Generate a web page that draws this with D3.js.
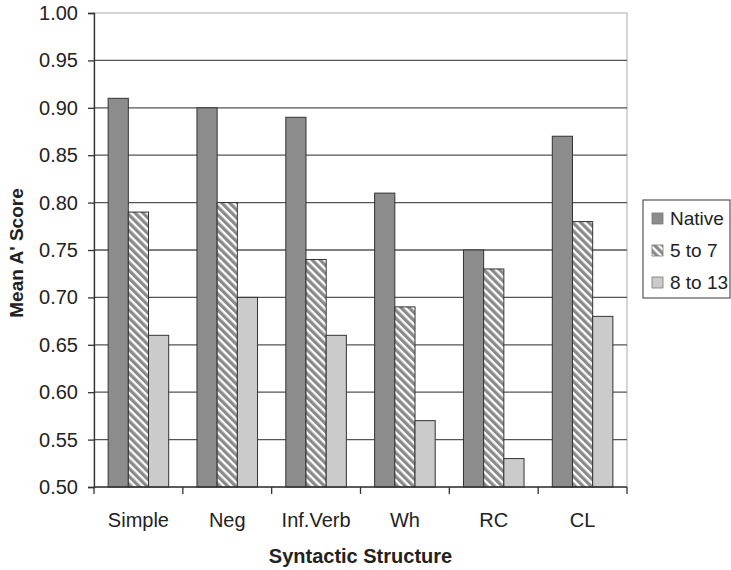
<!DOCTYPE html>
<html>
<head>
<meta charset="utf-8">
<script src="https://cdn.jsdelivr.net/npm/d3@7"></script>
<style>
    body { margin: 0; background: #fff; }
    text { font-family: "Liberation Sans", Arial, sans-serif; fill: #222; }
</style>
</head>
<body>
<svg id="chart" width="731" height="570"></svg>
<script>
// chart values
const categories = ["Simple", "Neg", "Inf.Verb", "Wh", "RC", "CL"];
const seriesNames = ["Native", "5 to 7", "8 to 13"];
const nativeValues = [0.91, 0.90, 0.89, 0.81, 0.75, 0.87];
const age5to7Values = [0.79, 0.80, 0.74, 0.69, 0.73, 0.78];
const age8to13Values = [0.66, 0.70, 0.66, 0.57, 0.53, 0.68];
const yTicks = [0.50, 0.55, 0.60, 0.65, 0.70, 0.75, 0.80, 0.85, 0.90, 0.95, 1.00];

const seriesValues = [nativeValues, age5to7Values, age8to13Values];

const margin = {top: 13, left: 94, right: 104, bottom: 83};
const width = 731, height = 570;

const svg = d3.select("#chart");

// diagonal hatch for the middle series
const defs = svg.append("defs");
const pat = defs.append("pattern")
    .attr("id", "hatch")
    .attr("patternUnits", "userSpaceOnUse")
    .attr("width", 5.6).attr("height", 5.6)
    .attr("patternTransform", "rotate(45)");
pat.append("rect").attr("width", 5.6).attr("height", 5.6).attr("fill", "#8a8a8a");
pat.append("rect").attr("width", 5.6).attr("height", 2.3).attr("fill", "#ffffff");

const fills = ["#8c8c8c", "url(#hatch)", "#cbcbcb"];

const x = d3.scaleBand()
    .domain(categories)
    .range([margin.left, width - margin.right]);

const xInner = d3.scaleBand()
    .domain(seriesNames)
    .range([0, x.bandwidth()])
    .paddingInner(0)
    .paddingOuter(0.7);

const y = d3.scaleLinear()
    .domain([0.5, 1.0])
    .range([height - margin.bottom, margin.top]);

// plot frame (light) on top and right
svg.append("rect")
    .attr("x", margin.left).attr("y", margin.top)
    .attr("width", width - margin.right - margin.left)
    .attr("height", y(0.5) - margin.top)
    .attr("fill", "none")
    .attr("stroke", "#c8c8c8")
    .attr("stroke-width", 1.5);

// gridlines
svg.append("g")
    .selectAll("line")
    .data(yTicks.filter(d => d > 0.5 && d < 1.0))
    .join("line")
    .attr("x1", margin.left).attr("x2", width - margin.right)
    .attr("y1", d => y(d)).attr("y2", d => y(d))
    .attr("stroke", "#555")
    .attr("stroke-width", 1.3);

// bars
const groups = svg.append("g")
    .selectAll("g")
    .data(categories)
    .join("g")
    .attr("transform", d => `translate(${x(d)},0)`);

groups.selectAll("rect")
    .data((c, i) => seriesNames.map((s, j) => ({series: s, idx: j, value: seriesValues[j][i]})))
    .join("rect")
    .attr("x", d => xInner(d.series))
    .attr("width", xInner.bandwidth())
    .attr("y", d => y(d.value))
    .attr("height", d => y(0.5) - y(d.value))
    .attr("fill", d => fills[d.idx])
    .attr("stroke", "#333")
    .attr("stroke-width", 1);

// y axis
const yAxis = svg.append("g")
    .attr("transform", `translate(${margin.left},0)`)
    .call(d3.axisLeft(y).tickValues(yTicks).tickFormat(d3.format(".2f")).tickSize(6).tickPadding(10));
yAxis.select(".domain").attr("stroke", "#333").attr("stroke-width", 1.3);
yAxis.selectAll(".tick line").attr("stroke", "#333").attr("stroke-width", 1.3);
yAxis.selectAll("text")
    .style("font-family", "'Liberation Sans', Arial, sans-serif")
    .style("font-size", "20px")
    .attr("fill", "#222");

// x axis with ticks at category boundaries
const xAxisG = svg.append("g")
    .attr("transform", `translate(0,${y(0.5)})`);
xAxisG.append("line")
    .attr("x1", margin.left).attr("x2", width - margin.right)
    .attr("stroke", "#333").attr("stroke-width", 1.3);
const boundaries = categories.map(c => x(c)).concat([x(categories[categories.length - 1]) + x.bandwidth()]);
xAxisG.selectAll("line.tk")
    .data(boundaries)
    .join("line")
    .attr("class", "tk")
    .attr("x1", d => d).attr("x2", d => d)
    .attr("y1", 0).attr("y2", 7)
    .attr("stroke", "#333").attr("stroke-width", 1.3);
xAxisG.selectAll("text")
    .data(categories)
    .join("text")
    .attr("x", d => x(d) + x.bandwidth() / 2)
    .attr("y", 40)
    .attr("text-anchor", "middle")
    .style("font-size", "20px")
    .text(d => d);

// axis titles
svg.append("text")
    .attr("x", margin.left + (width - margin.right - margin.left) / 2)
    .attr("y", 563)
    .attr("text-anchor", "middle")
    .style("font-size", "20px")
    .style("font-weight", "bold")
    .text("Syntactic Structure");

svg.append("text")
    .attr("transform", `translate(23,${(margin.top + y(0.5)) / 2 + 3}) rotate(-90)`)
    .attr("text-anchor", "middle")
    .style("font-size", "19px")
    .style("font-weight", "bold")
    .text("Mean A' Score");

// legend
const legend = svg.append("g").attr("transform", "translate(643,200)");
legend.append("rect")
    .attr("width", 87).attr("height", 98)
    .attr("fill", "#fff")
    .attr("stroke", "#555")
    .attr("stroke-width", 1.2);
const items = legend.selectAll("g.item")
    .data(seriesNames)
    .join("g")
    .attr("class", "item")
    .attr("transform", (d, i) => `translate(9,${13 + i * 32})`);
items.append("rect")
    .attr("width", 11).attr("height", 11)
    .attr("fill", (d, i) => fills[i])
    .attr("stroke", "#777")
    .attr("stroke-width", 0.8);
items.append("text")
    .attr("x", 18).attr("y", 12)
    .style("font-size", "19px")
    .text(d => d);
</script>
</body>
</html>
